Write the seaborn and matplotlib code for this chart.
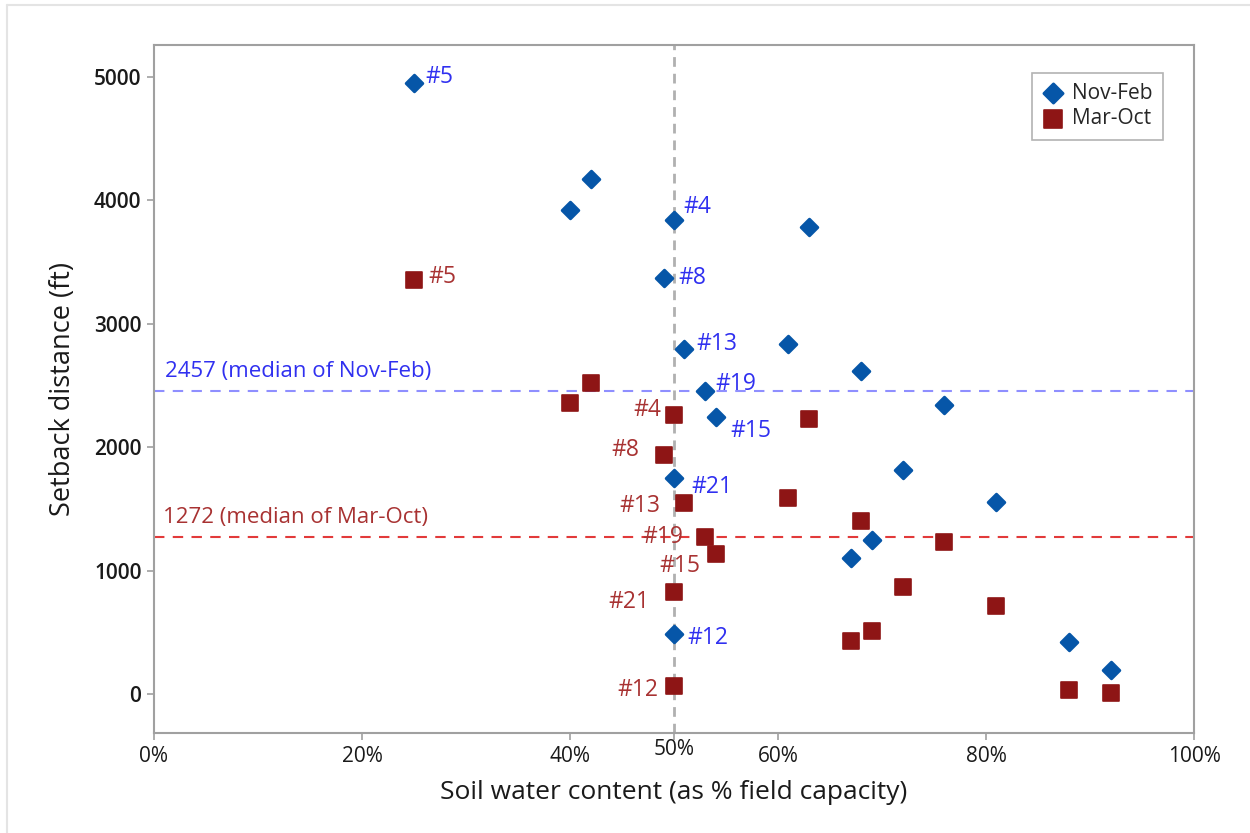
import matplotlib
matplotlib.use("Agg")
import matplotlib.pyplot as plt
import matplotlib.transforms as mtransforms
from matplotlib.lines import Line2D
import seaborn as sns

# ---------------- data ----------------
nov_x = [25, 42, 40, 50, 63, 49, 51, 61, 68, 53, 54, 76, 50, 72, 81, 67, 69, 50, 88, 92]
nov_y = [4950, 4170, 3920, 3840, 3785, 3375, 2795, 2835, 2615, 2455, 2245, 2345,
         1750, 1815, 1555, 1105, 1250, 485, 420, 195]
nov_lab = ['#5', '', '', '#4', '', '#8', '#13', '', '', '#19', '#15', '',
           '#21', '', '', '', '', '#12', '', '']

mar_x = [25, 42, 40, 50, 63, 49, 51, 61, 68, 53, 54, 76, 50, 72, 81, 67, 69, 50, 88, 92]
mar_y = [3355, 2520, 2355, 2260, 2230, 1935, 1545, 1585, 1400, 1272, 1132, 1230,
         825, 868, 712, 430, 512, 63, 33, 10]
mar_lab = ['#5', '', '', '#4', '', '#8', '#13', '', '', '#19', '#15', '',
           '#21', '', '', '', '', '#12', '', '']

median_nov = 2457
median_mar = 1272
ref_x = 50

x_ticks = [0, 20, 40, 50, 60, 80, 100]
x_ticklabels = ['0%', '20%', '40%', '50%', '60%', '80%', '100%']
y_ticks = [0, 1000, 2000, 3000, 4000, 5000]

# ---------------- style ----------------
# label offsets in pixels (dx, dy), converted to points below
nov_off = {'#5': (11, 6), '#4': (9, 13), '#8': (15, 0), '#13': (12, 5), '#19': (10, 7),
           '#15': (15, -14), '#21': (17, -9), '#12': (13, -4)}
mar_off = {'#5': (14, 3), '#4': (-13, 5), '#8': (-24, 5), '#13': (-24, -3), '#19': (-22, 0),
           '#15': (-15, -12), '#21': (-25, -10), '#12': (-16, -4)}

C_NOV = '#0656a8'
C_MAR = '#8e1515'
C_NOV_TXT = '#3030f0'
C_MAR_TXT = '#a83232'
C_NOV_LINE = '#8f8fff'
C_MAR_LINE = '#e23a3a'

sns.set_style("white")
plt.rcParams['font.family'] = ['Open Sans', 'DejaVu Sans']

fig = plt.figure(figsize=(12.5, 8.33), dpi=100)
ax = fig.add_axes([0.1232, 0.120, 0.9552 - 0.1232, 0.946 - 0.120])

sns.scatterplot(x=nov_x, y=nov_y, ax=ax, marker='D', s=70, color=C_NOV,
                edgecolor=C_NOV, linewidth=2.2, label='Nov-Feb', zorder=4)
sns.scatterplot(x=mar_x, y=mar_y, ax=ax, marker='s', s=130, color=C_MAR,
                edgecolor=C_MAR, linewidth=1.2, label='Mar-Oct', zorder=4)
for coll in ax.collections:
    coll.set_joinstyle('round')

ax.axhline(median_nov, color=C_NOV_LINE, lw=1.5, ls=(0, (5, 4)), zorder=2)
ax.axhline(median_mar, color=C_MAR_LINE, lw=1.5, ls=(0, (5, 4)), zorder=2)
ax.axvline(ref_x, color='#b0b0b0', lw=2, ls=(0, (3.5, 2.5)), zorder=1)

ax.text(1.1, median_nov + 70, f'{median_nov} (median of Nov-Feb)', color=C_NOV_TXT,
        fontsize=16, ha='left', va='bottom')
ax.text(0.9, median_mar + 70, f'{median_mar} (median of Mar-Oct)', color=C_MAR_TXT,
        fontsize=16, ha='left', va='bottom')

px2pt = 0.72
for xs, ys, labs, offs, col in [(nov_x, nov_y, nov_lab, nov_off, C_NOV_TXT),
                                (mar_x, mar_y, mar_lab, mar_off, C_MAR_TXT)]:
    for xv, yv, lab in zip(xs, ys, labs):
        if not lab:
            continue
        dx, dy = offs[lab]
        ax.annotate(lab, (xv, yv), xytext=(dx * px2pt, dy * px2pt), textcoords='offset points',
                    ha='left' if dx > 0 else 'right', va='center', color=col, fontsize=16.5,
                    zorder=5)

ax.set_xlim(0, 100)
ax.set_ylim(-316, 5260)
ax.set_xticks(x_ticks)
ax.set_xticklabels(x_ticklabels)
ax.set_yticks(y_ticks)
ax.tick_params(axis='both', which='major', direction='out', length=5, width=1.2,
               color='#a0a0a0', labelsize=15, labelcolor='#1a1a1a', pad=4,
               left=True, bottom=True)
for lbl in ax.get_yticklabels():
    lbl.set_fontweight('semibold')
# the 50% label sits a bit higher
for lbl in ax.get_xticklabels():
    if lbl.get_text() == '50%':
        lbl.set_transform(lbl.get_transform() +
                          mtransforms.ScaledTranslation(0, 7 / 100, fig.dpi_scale_trans))

for sp in ax.spines.values():
    sp.set_color('#a0a0a0')
    sp.set_linewidth(1.5)

ax.set_xlabel('Soil water content (as % field capacity)', fontsize=19, color='#1a1a1a',
              labelpad=10)
ax.set_ylabel('Setback distance (ft)', fontsize=19.5, color='#1a1a1a', labelpad=12)

leg = ax.legend(loc='upper right', bbox_to_anchor=(0.97, 0.96), frameon=True, fontsize=15,
                handletextpad=0.4, borderpad=0.5, labelspacing=0.2, handlelength=1.0,
                fancybox=False, borderaxespad=0.0, markerscale=1.15)
leg.get_frame().set_edgecolor('#a0a0a0')
leg.get_frame().set_linewidth(1.2)

# light figure border (top and left)
fig.add_artist(Line2D([0.0056, 1.0], [0.994, 0.994], transform=fig.transFigure,
                      color='#e4e4e4', lw=1.5))
fig.add_artist(Line2D([0.0056, 0.0056], [0.0, 0.994], transform=fig.transFigure,
                      color='#e4e4e4', lw=1.5))

fig.savefig('out.png', dpi=100)
